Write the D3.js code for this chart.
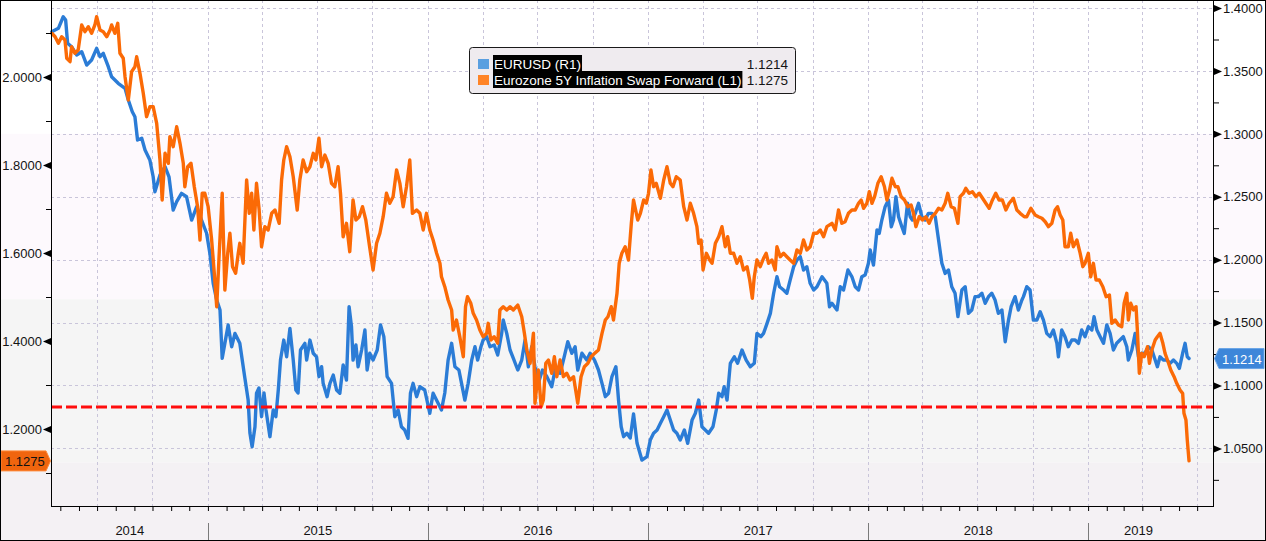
<!DOCTYPE html>
<html><head><meta charset="utf-8">
<script src="https://cdn.jsdelivr.net/npm/d3@7"></script>
<style>
body{margin:0;background:#fff}
svg{display:block}
text{font-family:"Liberation Sans",Arial,sans-serif}
</style>
</head><body>
<svg id="c" width="1266" height="541"></svg>
<script>
// ---- data: [decimal year, value] ----
const eurusd = [[2014.290,1.3812],[2014.320,1.3839],[2014.342,1.3931],[2014.353,1.3905],[2014.362,1.3720],[2014.380,1.3693],[2014.403,1.3627],[2014.426,1.3653],[2014.449,1.3547],[2014.471,1.3587],[2014.494,1.3680],[2014.509,1.3613],[2014.524,1.3640],[2014.547,1.3534],[2014.562,1.3454],[2014.592,1.3402],[2014.623,1.3362],[2014.638,1.3269],[2014.656,1.3176],[2014.668,1.3136],[2014.680,1.2951],[2014.699,1.2965],[2014.714,1.2872],[2014.736,1.2792],[2014.751,1.2659],[2014.759,1.2540],[2014.782,1.2673],[2014.805,1.2739],[2014.823,1.2659],[2014.842,1.2395],[2014.858,1.2461],[2014.880,1.2527],[2014.903,1.2500],[2014.926,1.2315],[2014.949,1.2421],[2014.971,1.2315],[2014.994,1.2210],[2015.009,1.2050],[2015.024,1.1812],[2015.040,1.1679],[2015.055,1.1600],[2015.065,1.1216],[2015.077,1.1335],[2015.092,1.1481],[2015.108,1.1308],[2015.123,1.1414],[2015.145,1.1335],[2015.168,1.1059],[2015.183,1.0884],[2015.191,1.0622],[2015.201,1.0513],[2015.214,1.0672],[2015.221,1.0938],[2015.232,1.0980],[2015.244,1.0752],[2015.255,1.0940],[2015.264,1.0805],[2015.282,1.0593],[2015.297,1.0805],[2015.309,1.0752],[2015.320,1.0964],[2015.330,1.1202],[2015.345,1.1361],[2015.358,1.1228],[2015.373,1.1454],[2015.388,1.1202],[2015.400,1.0964],[2015.410,1.0940],[2015.421,1.1282],[2015.441,1.1335],[2015.449,1.1202],[2015.464,1.1361],[2015.479,1.1256],[2015.494,1.1228],[2015.505,1.1070],[2015.517,1.1149],[2015.524,1.1017],[2015.542,1.0911],[2015.555,1.1017],[2015.570,1.1083],[2015.585,1.0964],[2015.600,1.0938],[2015.615,1.1163],[2015.630,1.1043],[2015.642,1.1626],[2015.653,1.1467],[2015.660,1.1202],[2015.673,1.1322],[2015.683,1.1149],[2015.699,1.1282],[2015.714,1.1441],[2015.724,1.1123],[2015.736,1.1256],[2015.751,1.1202],[2015.770,1.1282],[2015.785,1.1481],[2015.800,1.1388],[2015.815,1.1070],[2015.835,1.1017],[2015.850,1.0752],[2015.865,1.0805],[2015.880,1.0672],[2015.895,1.0646],[2015.910,1.0580],[2015.921,1.0938],[2015.933,1.1017],[2015.949,1.0911],[2015.964,1.0990],[2015.986,1.0964],[2016.009,1.0779],[2016.024,1.0938],[2016.032,1.0911],[2016.062,1.0805],[2016.077,1.0940],[2016.092,1.1202],[2016.108,1.1335],[2016.123,1.1149],[2016.141,1.1123],[2016.153,1.1017],[2016.168,1.0884],[2016.183,1.1017],[2016.199,1.1202],[2016.214,1.1308],[2016.226,1.1202],[2016.241,1.1308],[2016.251,1.1361],[2016.267,1.1388],[2016.282,1.1308],[2016.301,1.1322],[2016.317,1.1242],[2016.335,1.1414],[2016.342,1.1520],[2016.358,1.1414],[2016.373,1.1282],[2016.388,1.1216],[2016.408,1.1123],[2016.426,1.1202],[2016.441,1.1361],[2016.456,1.1149],[2016.471,1.1308],[2016.486,1.1149],[2016.501,1.1017],[2016.520,1.1123],[2016.540,1.1070],[2016.562,1.0990],[2016.577,1.1123],[2016.600,1.1097],[2016.615,1.1202],[2016.635,1.1348],[2016.653,1.1256],[2016.668,1.1308],[2016.680,1.1123],[2016.699,1.1256],[2016.721,1.1202],[2016.736,1.1256],[2016.756,1.1202],[2016.774,1.1123],[2016.790,1.1017],[2016.805,1.0911],[2016.820,1.0938],[2016.835,1.1070],[2016.853,1.1149],[2016.865,1.0884],[2016.877,1.0672],[2016.888,1.0593],[2016.903,1.0620],[2016.918,1.0582],[2016.933,1.0773],[2016.949,1.0540],[2016.971,1.0407],[2016.994,1.0434],[2017.009,1.0566],[2017.024,1.0620],[2017.040,1.0646],[2017.055,1.0699],[2017.070,1.0752],[2017.085,1.0805],[2017.100,1.0725],[2017.115,1.0646],[2017.130,1.0620],[2017.145,1.0566],[2017.164,1.0646],[2017.179,1.0540],[2017.199,1.0725],[2017.214,1.0779],[2017.229,1.0884],[2017.244,1.0672],[2017.259,1.0646],[2017.274,1.0620],[2017.294,1.0672],[2017.309,1.0805],[2017.320,1.0938],[2017.335,1.0911],[2017.345,1.0990],[2017.358,1.0884],[2017.373,1.1176],[2017.391,1.1228],[2017.406,1.1176],[2017.426,1.1282],[2017.445,1.1202],[2017.464,1.1149],[2017.482,1.1176],[2017.494,1.1414],[2017.512,1.1388],[2017.524,1.1414],[2017.540,1.1494],[2017.555,1.1573],[2017.570,1.1733],[2017.585,1.1864],[2017.597,1.1785],[2017.615,1.1759],[2017.630,1.1733],[2017.645,1.1838],[2017.661,1.1944],[2017.676,1.1997],[2017.691,1.2024],[2017.706,1.1918],[2017.721,1.1944],[2017.736,1.1812],[2017.752,1.1759],[2017.767,1.1785],[2017.790,1.1864],[2017.812,1.1812],[2017.824,1.1626],[2017.835,1.1653],[2017.858,1.1600],[2017.873,1.1785],[2017.888,1.1759],[2017.908,1.1918],[2017.926,1.1864],[2017.941,1.1785],[2017.956,1.1759],[2017.971,1.1864],[2017.986,1.1878],[2018.001,1.1971],[2018.009,1.2077],[2018.024,1.1957],[2018.040,1.2236],[2018.050,1.2209],[2018.062,1.2315],[2018.077,1.2421],[2018.092,1.2474],[2018.105,1.2262],[2018.115,1.2315],[2018.126,1.2500],[2018.138,1.2341],[2018.153,1.2262],[2018.164,1.2209],[2018.179,1.2448],[2018.191,1.2341],[2018.201,1.2315],[2018.214,1.2368],[2018.229,1.2448],[2018.244,1.2341],[2018.259,1.2315],[2018.274,1.2368],[2018.290,1.2368],[2018.305,1.2341],[2018.320,1.2156],[2018.335,1.1971],[2018.350,1.1891],[2018.365,1.1918],[2018.380,1.1785],[2018.395,1.1733],[2018.408,1.1547],[2018.426,1.1759],[2018.441,1.1785],[2018.456,1.1573],[2018.471,1.1600],[2018.486,1.1706],[2018.501,1.1706],[2018.517,1.1733],[2018.532,1.1653],[2018.547,1.1706],[2018.562,1.1733],[2018.577,1.1679],[2018.592,1.1573],[2018.608,1.1600],[2018.623,1.1348],[2018.638,1.1520],[2018.650,1.1626],[2018.668,1.1706],[2018.683,1.1600],[2018.699,1.1679],[2018.706,1.1706],[2018.721,1.1785],[2018.736,1.1759],[2018.751,1.1520],[2018.767,1.1520],[2018.782,1.1586],[2018.797,1.1520],[2018.812,1.1414],[2018.827,1.1388],[2018.842,1.1441],[2018.858,1.1335],[2018.865,1.1228],[2018.880,1.1441],[2018.895,1.1388],[2018.910,1.1308],[2018.926,1.1361],[2018.941,1.1361],[2018.956,1.1335],[2018.971,1.1441],[2018.986,1.1388],[2019.001,1.1467],[2019.017,1.1441],[2019.027,1.1547],[2019.040,1.1441],[2019.055,1.1388],[2019.070,1.1335],[2019.085,1.1481],[2019.100,1.1414],[2019.115,1.1282],[2019.130,1.1335],[2019.145,1.1361],[2019.160,1.1388],[2019.176,1.1308],[2019.183,1.1202],[2019.199,1.1282],[2019.214,1.1414],[2019.229,1.1228],[2019.244,1.1256],[2019.259,1.1256],[2019.274,1.1308],[2019.290,1.1282],[2019.305,1.1202],[2019.315,1.1149],[2019.327,1.1228],[2019.342,1.1202],[2019.358,1.1202],[2019.373,1.1176],[2019.388,1.1202],[2019.403,1.1176],[2019.415,1.1136],[2019.430,1.1256],[2019.441,1.1335],[2019.451,1.1228],[2019.459,1.1214]];

const swap5y = [[2014.290,2.0993],[2014.305,2.0916],[2014.320,2.0766],[2014.335,2.0916],[2014.350,2.0841],[2014.358,2.0425],[2014.373,2.0348],[2014.380,2.0689],[2014.395,2.0539],[2014.410,2.0614],[2014.426,2.1182],[2014.441,2.1030],[2014.456,2.1143],[2014.471,2.0993],[2014.486,2.1182],[2014.494,2.1370],[2014.509,2.1068],[2014.524,2.1030],[2014.540,2.0916],[2014.555,2.1068],[2014.562,2.1182],[2014.577,2.0993],[2014.590,2.1220],[2014.600,2.0539],[2014.615,2.0425],[2014.623,2.0007],[2014.638,1.9477],[2014.653,2.0120],[2014.668,2.0234],[2014.676,2.0461],[2014.691,2.0084],[2014.706,1.9630],[2014.721,1.9098],[2014.736,1.9325],[2014.751,1.9325],[2014.767,1.8948],[2014.782,1.8114],[2014.792,1.7205],[2014.805,1.8266],[2014.820,1.8039],[2014.827,1.8643],[2014.842,1.8416],[2014.858,1.8870],[2014.873,1.8493],[2014.888,1.8039],[2014.895,1.7507],[2014.908,1.7961],[2014.923,1.8039],[2014.938,1.7507],[2014.953,1.7052],[2014.964,1.6295],[2014.974,1.7357],[2014.986,1.7357],[2015.001,1.7052],[2015.017,1.6295],[2015.029,1.5539],[2015.040,1.4780],[2015.050,1.5841],[2015.065,1.7357],[2015.077,1.5159],[2015.090,1.5993],[2015.100,1.6448],[2015.112,1.5689],[2015.126,1.5539],[2015.138,1.5993],[2015.145,1.6220],[2015.160,1.5766],[2015.176,1.7659],[2015.188,1.6902],[2015.199,1.7357],[2015.209,1.6523],[2015.221,1.7584],[2015.233,1.6977],[2015.244,1.6143],[2015.259,1.6598],[2015.274,1.6523],[2015.290,1.6902],[2015.305,1.6977],[2015.324,1.6675],[2015.335,1.7659],[2015.345,1.8114],[2015.358,1.8416],[2015.373,1.8189],[2015.388,1.7734],[2015.406,1.6977],[2015.418,1.7659],[2015.433,1.8114],[2015.449,1.7848],[2015.464,1.7961],[2015.479,1.8266],[2015.491,1.8114],[2015.505,1.8607],[2015.517,1.7961],[2015.532,1.8227],[2015.547,1.8039],[2015.562,1.7584],[2015.577,1.7507],[2015.592,1.7961],[2015.603,1.7357],[2015.615,1.6370],[2015.630,1.6675],[2015.645,1.6030],[2015.660,1.7205],[2015.673,1.6750],[2015.688,1.6825],[2015.703,1.7052],[2015.718,1.6750],[2015.733,1.6220],[2015.751,1.5614],[2015.767,1.6220],[2015.782,1.6448],[2015.797,1.6825],[2015.812,1.7357],[2015.827,1.7130],[2015.842,1.7280],[2015.858,1.7886],[2015.873,1.7584],[2015.888,1.7052],[2015.903,1.7507],[2015.918,1.8114],[2015.930,1.6902],[2015.949,1.6977],[2015.964,1.6902],[2015.979,1.6523],[2015.994,1.6902],[2016.009,1.6523],[2016.024,1.6295],[2016.040,1.5993],[2016.055,1.5766],[2016.062,1.5461],[2016.077,1.5234],[2016.092,1.4932],[2016.108,1.4705],[2016.115,1.4250],[2016.130,1.4477],[2016.145,1.4098],[2016.161,1.3643],[2016.171,1.4780],[2016.180,1.5007],[2016.195,1.4857],[2016.206,1.4630],[2016.221,1.4477],[2016.236,1.4250],[2016.251,1.4098],[2016.267,1.4175],[2016.274,1.4402],[2016.286,1.4023],[2016.301,1.4098],[2016.317,1.3948],[2016.327,1.4705],[2016.342,1.4780],[2016.358,1.4705],[2016.373,1.4780],[2016.388,1.4705],[2016.408,1.4818],[2016.426,1.4552],[2016.438,1.4175],[2016.449,1.3795],[2016.464,1.3493],[2016.479,1.4175],[2016.486,1.2584],[2016.501,1.3341],[2016.514,1.2507],[2016.524,1.2659],[2016.535,1.3493],[2016.547,1.3568],[2016.562,1.3266],[2016.574,1.3643],[2016.585,1.3189],[2016.600,1.3568],[2016.615,1.3189],[2016.630,1.3266],[2016.645,1.3114],[2016.661,1.3189],[2016.680,1.2584],[2016.695,1.3189],[2016.710,1.3416],[2016.726,1.3493],[2016.741,1.3643],[2016.756,1.3720],[2016.774,1.3795],[2016.790,1.4175],[2016.805,1.4477],[2016.817,1.4552],[2016.832,1.4780],[2016.842,1.4477],[2016.858,1.5084],[2016.868,1.5766],[2016.880,1.5993],[2016.895,1.6143],[2016.910,1.5841],[2016.923,1.6675],[2016.933,1.7205],[2016.952,1.6750],[2016.964,1.6902],[2016.979,1.7205],[2016.991,1.7130],[2017.001,1.7357],[2017.012,1.7886],[2017.024,1.7507],[2017.036,1.7584],[2017.055,1.7243],[2017.070,1.7659],[2017.085,1.7961],[2017.100,1.7584],[2017.112,1.7507],[2017.127,1.7734],[2017.145,1.7659],[2017.161,1.7052],[2017.176,1.6750],[2017.191,1.7130],[2017.206,1.6902],[2017.221,1.6598],[2017.229,1.6220],[2017.240,1.6295],[2017.249,1.5614],[2017.264,1.5993],[2017.279,1.5841],[2017.290,1.5766],[2017.305,1.6220],[2017.320,1.6370],[2017.335,1.6598],[2017.350,1.6143],[2017.361,1.6370],[2017.373,1.5993],[2017.388,1.5993],[2017.403,1.5766],[2017.418,1.5916],[2017.433,1.5614],[2017.449,1.5689],[2017.461,1.5386],[2017.473,1.4970],[2017.482,1.5461],[2017.494,1.5841],[2017.509,1.5689],[2017.524,1.5880],[2017.536,1.5993],[2017.547,1.5766],[2017.562,1.5841],[2017.577,1.5614],[2017.585,1.6143],[2017.600,1.5916],[2017.615,1.5993],[2017.630,1.5916],[2017.645,1.5841],[2017.661,1.5766],[2017.676,1.6068],[2017.691,1.5993],[2017.706,1.6295],[2017.721,1.6068],[2017.736,1.6143],[2017.752,1.6448],[2017.767,1.6448],[2017.782,1.6523],[2017.797,1.6370],[2017.812,1.6598],[2017.835,1.6675],[2017.850,1.6523],[2017.865,1.6977],[2017.880,1.6675],[2017.895,1.6711],[2017.910,1.6902],[2017.926,1.6977],[2017.941,1.6977],[2017.956,1.7130],[2017.968,1.7205],[2017.979,1.7016],[2017.994,1.7130],[2018.005,1.7393],[2018.017,1.7130],[2018.029,1.7280],[2018.044,1.7584],[2018.059,1.7734],[2018.074,1.7507],[2018.085,1.7205],[2018.097,1.7432],[2018.108,1.7698],[2018.123,1.7507],[2018.135,1.7507],[2018.150,1.7280],[2018.165,1.7205],[2018.180,1.7052],[2018.195,1.7091],[2018.206,1.6902],[2018.217,1.6598],[2018.232,1.6825],[2018.247,1.6750],[2018.262,1.6825],[2018.277,1.6675],[2018.290,1.6825],[2018.305,1.6902],[2018.320,1.7016],[2018.335,1.6977],[2018.350,1.7130],[2018.362,1.7357],[2018.377,1.7052],[2018.392,1.7016],[2018.408,1.6675],[2018.418,1.7280],[2018.433,1.7357],[2018.444,1.7470],[2018.459,1.7357],[2018.474,1.7393],[2018.490,1.7280],[2018.505,1.7357],[2018.520,1.7243],[2018.535,1.7130],[2018.550,1.7016],[2018.565,1.7205],[2018.580,1.7357],[2018.595,1.7205],[2018.610,1.7205],[2018.626,1.6977],[2018.641,1.7130],[2018.660,1.7243],[2018.676,1.6977],[2018.691,1.6902],[2018.710,1.6825],[2018.721,1.6825],[2018.740,1.7016],[2018.759,1.6864],[2018.774,1.6825],[2018.790,1.6789],[2018.805,1.6711],[2018.820,1.6598],[2018.835,1.6675],[2018.850,1.6977],[2018.861,1.7052],[2018.873,1.6864],[2018.885,1.6750],[2018.895,1.6143],[2018.910,1.6143],[2018.921,1.6448],[2018.933,1.6143],[2018.949,1.6295],[2018.964,1.5993],[2018.976,1.5689],[2018.986,1.5766],[2019.001,1.5993],[2019.012,1.5461],[2019.024,1.5766],[2019.036,1.5386],[2019.051,1.5386],[2019.067,1.5234],[2019.082,1.5007],[2019.097,1.5045],[2019.108,1.4402],[2019.123,1.4477],[2019.138,1.4364],[2019.153,1.4325],[2019.164,1.4857],[2019.176,1.5084],[2019.183,1.4477],[2019.194,1.4857],[2019.206,1.4705],[2019.218,1.4780],[2019.224,1.4250],[2019.233,1.3266],[2019.244,1.3720],[2019.255,1.3643],[2019.270,1.3870],[2019.279,1.3493],[2019.290,1.3795],[2019.305,1.4023],[2019.315,1.4098],[2019.327,1.4175],[2019.340,1.3948],[2019.350,1.3720],[2019.361,1.3568],[2019.376,1.3341],[2019.391,1.3189],[2019.403,1.3039],[2019.418,1.2886],[2019.430,1.2811],[2019.436,1.2357],[2019.445,1.2205],[2019.451,1.1750],[2019.459,1.1275]];

const seriesNames = ["EURUSD (R1)", "Eurozone 5Y Inflation Swap Forward (L1)"];
const lastValues = [1.1214, 1.1275];
const leftTicks = [2.0, 1.8, 1.6, 1.4, 1.2];
const leftMinorTicks = [2.1, 1.9, 1.7, 1.5, 1.3, 1.1];
const rightTicks = [1.40, 1.35, 1.30, 1.25, 1.20, 1.15, 1.10, 1.05];
const rightMinorTicks = [1.375, 1.325, 1.275, 1.225, 1.175, 1.125, 1.075, 1.025];
const yearLabels = ["2014", "2015", "2016", "2017", "2018", "2019"];
const thresholdLeft = 1.25;
const xDomainYears = [2014.2864, 2019.568];
const leftDomain = [1.025, 2.175];
const rightDomain = [1.0042, 1.4064];
const bandEdgesRight = [1.4064, 1.30, 1.1685, 1.0387];

// ---- helpers ----
function dec(t){const y=Math.floor(t);const s=Date.UTC(y,0,1),e=Date.UTC(y+1,0,1);return new Date(s+(t-y)*(e-s));}

const W=1266,H=541, L=51, R=1213, B=506, T=0;
const FS=13, FSL=13.5;
const svg=d3.select("#c");
const x=d3.scaleUtc().domain(xDomainYears.map(dec)).range([L,R]);
const yL=d3.scaleLinear().domain(leftDomain).range([B,T]);
const yR=d3.scaleLinear().domain(rightDomain).range([B,T]);

// background bands (full width)
const bandColors=["#ffffff","#fdf9fd","#f5f5f5","#f4f1f4"];
const edges=bandEdgesRight.map(v=>yR(v));
edges[0]=0; edges.push(H);
bandColors.forEach((c,i)=>{
  svg.append("rect").attr("x",0).attr("y",edges[i]).attr("width",W).attr("height",edges[i+1]-edges[i]).attr("fill",c);
});

// gridlines
const gridColor="#c9c5da";
const grid=svg.append("g");
grid.selectAll("line.h").data(rightTicks).join("line")
  .attr("x1",L).attr("x2",R).attr("y1",d=>Math.round(yR(d))+0.5).attr("y2",d=>Math.round(yR(d))+0.5)
  .attr("stroke",gridColor).attr("stroke-dasharray","3,3");
const quarters=d3.utcMonth.every(3).range(x.domain()[0],x.domain()[1]);
grid.selectAll("line.v").data(quarters).join("line")
  .attr("x1",d=>Math.round(x(d))+0.5).attr("x2",d=>Math.round(x(d))+0.5).attr("y1",T).attr("y2",B)
  .attr("stroke",gridColor).attr("stroke-dasharray","3,3");

// series
const lineR=d3.line().x(d=>x(dec(d[0]))).y(d=>yR(d[1]));
const lineL=d3.line().x(d=>x(dec(d[0]))).y(d=>yL(d[1]));
const blue="#2b7cd6", orange="#fb6a06";
svg.append("path").datum(eurusd).attr("d",lineR).attr("fill","none").attr("stroke",blue)
  .attr("stroke-width",3.4).attr("stroke-linejoin","round").attr("stroke-linecap","round");
svg.append("path").datum(swap5y).attr("d",lineL).attr("fill","none").attr("stroke",orange)
  .attr("stroke-width",3.4).attr("stroke-linejoin","round").attr("stroke-linecap","round");

// threshold line
svg.append("line").attr("x1",L).attr("x2",R).attr("y1",yL(thresholdLeft)).attr("y2",yL(thresholdLeft))
  .attr("stroke","#ff0d0d").attr("stroke-width",3).attr("stroke-dasharray","11,4");

// axis lines
svg.append("line").attr("x1",L+0.5).attr("x2",L+0.5).attr("y1",T).attr("y2",B).attr("stroke","#000");
svg.append("line").attr("x1",R+0.5).attr("x2",R+0.5).attr("y1",T).attr("y2",B).attr("stroke","#000");
svg.append("line").attr("x1",L).attr("x2",R+1).attr("y1",B+0.5).attr("y2",B+0.5).attr("stroke","#000");

// left axis
const fmt=d3.format(".4f");
const fontFam='"Liberation Sans",Arial,sans-serif';
const gL=svg.append("g").attr("transform",`translate(${L},0)`)
  .call(d3.axisLeft(yL).tickValues(leftTicks).tickFormat(fmt).tickSize(0).tickPadding(9));
gL.select(".domain").remove();
gL.selectAll(".tick").append("path").attr("d","M0,-3.5L-8,0L0,3.5Z").attr("fill","#000");
gL.selectAll("text").attr("font-size",FS).attr("fill","#141414").attr("font-family",fontFam);
const gLm=svg.append("g").attr("transform",`translate(${L},0)`)
  .call(d3.axisLeft(yL).tickValues(leftMinorTicks).tickFormat("").tickSize(5));
gLm.select(".domain").remove();

// right axis
const gR=svg.append("g").attr("transform",`translate(${R+1},0)`)
  .call(d3.axisRight(yR).tickValues(rightTicks).tickFormat(fmt).tickSize(0).tickPadding(9));
gR.select(".domain").remove();
gR.selectAll(".tick").append("path").attr("d","M0,-3.5L8,0L0,3.5Z").attr("fill","#000");
gR.selectAll("text").attr("font-size",FS).attr("fill","#141414").attr("font-family",fontFam);
const gRm=svg.append("g").attr("transform",`translate(${R+1},0)`)
  .call(d3.axisRight(yR).tickValues(rightMinorTicks).tickFormat("").tickSize(5));
gRm.select(".domain").remove();

// bottom month ticks
const months=d3.utcMonth.range(x.domain()[0],x.domain()[1]);
const gB=svg.append("g").attr("transform",`translate(0,${B})`)
  .call(d3.axisBottom(x).tickValues(months).tickFormat("").tickSize(5));
gB.select(".domain").remove();

// year separators and labels
const dataStart=dec(eurusd[0][0]), dataEnd=dec(eurusd[eurusd.length-1][0]);
yearLabels.forEach(y=>{
  const ys=new Date(Date.UTC(+y,0,1)), ye=new Date(Date.UTC(+y+1,0,1));
  if(ys>x.domain()[0]) svg.append("line").attr("x1",Math.round(x(ys))+0.5).attr("x2",Math.round(x(ys))+0.5)
     .attr("y1",523).attr("y2",H).attr("stroke","#7a7a7a");
  const a=Math.max(+ys,+dataStart), b=Math.min(+ye,+dataEnd);
  svg.append("text").attr("x",(x(new Date(a))+x(new Date(b)))/2).attr("y",535)
    .attr("text-anchor","middle").attr("font-size",FS).attr("fill","#141414").text(y);
});

// last value tags
const yl=yL(lastValues[1]);
svg.append("path").attr("d",`M1,${yl-10}H46L50.5,${yl}L46,${yl+10}H1Z`).attr("fill","#f0650e").attr("stroke","#ff8a3a");
svg.append("text").attr("x",5).attr("y",yl+5).attr("font-size",FS).attr("fill","#111").text(fmt(lastValues[1]));
const yr=yR(lastValues[0]);
svg.append("path").attr("d",`M1214.5,${yr}L1219,${yr-10}H1264V${yr+10}H1219Z`).attr("fill","#3d86d9").attr("stroke","#6aa5e6");
svg.append("text").attr("x",1222).attr("y",yr+5).attr("font-size",FS).attr("fill","#fff").text(fmt(lastValues[0]));

// legend
const lg=svg.append("g");
lg.append("rect").attr("x",469.5).attr("y",47.5).attr("width",326).attr("height",46).attr("rx",3)
  .attr("fill","#efebef").attr("stroke","#1a1a1a");
const swatch=["#5a9fe0","#ff8426"];
seriesNames.forEach((n,i)=>{
  const yy=60+i*16;
  lg.append("rect").attr("x",478).attr("y",yy-1).attr("width",11).attr("height",10).attr("fill",swatch[i]);
  const t=lg.append("text").attr("x",494).attr("y",yy+9).attr("font-size",FSL).attr("fill","#fff").text(n);
  const bb=t.node().getBBox();
  lg.insert("rect","text").attr("x",bb.x-1).attr("y",yy-5).attr("width",bb.width+2).attr("height",17).attr("fill","#000");
  lg.append("text").attr("x",788).attr("y",yy+9).attr("text-anchor","end").attr("font-size",FSL).attr("fill","#141414").text(fmt(lastValues[i]));
});
lg.selectAll("text").raise();

// outer frame
svg.append("rect").attr("x",0.5).attr("y",0.5).attr("width",W-1).attr("height",H-1).attr("fill","none").attr("stroke","#000");
</script>
</body></html>
